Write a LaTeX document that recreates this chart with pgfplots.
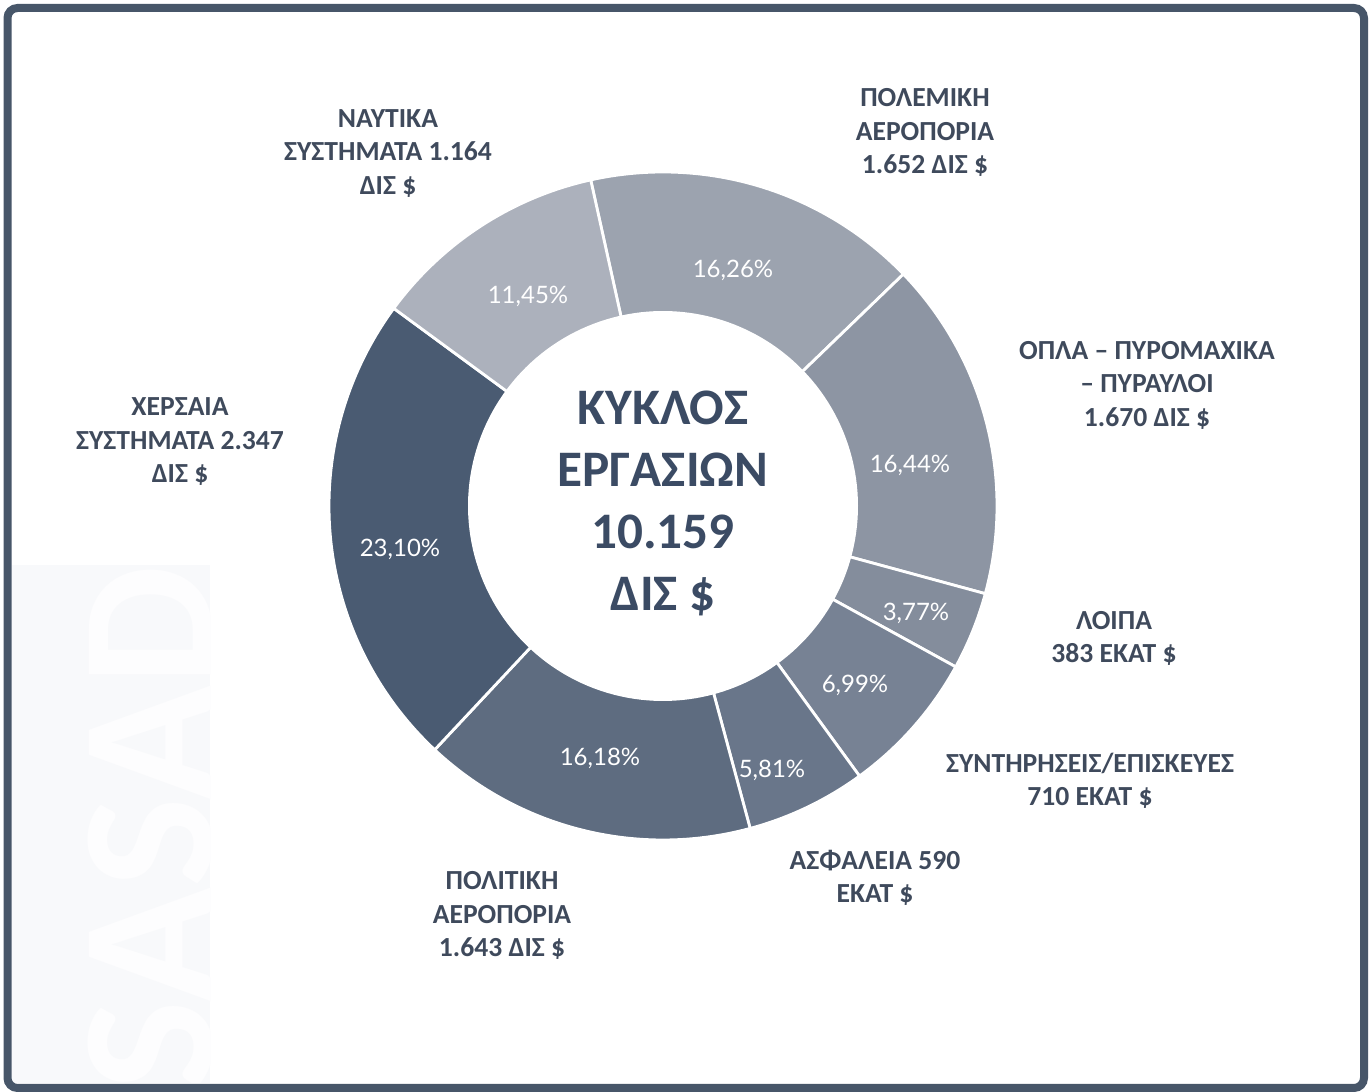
\documentclass[border=0pt]{standalone}
\usepackage{pgfplots}
\pgfplotsset{compat=1.18}
\usepackage{pgfplotstable}
\usepackage{fontspec}
\setmainfont{Carlito}
\newfontfamily\pctfont{Lato}

\definecolor{polem}{HTML}{9CA3AF}
\definecolor{opla}{HTML}{8D95A3}
\definecolor{loipa}{HTML}{848D9C}
\definecolor{syntir}{HTML}{778294}
\definecolor{asfal}{HTML}{69768A}
\definecolor{polit}{HTML}{5E6C80}
\definecolor{xers}{HTML}{4A5B72}
\definecolor{naut}{HTML}{ACB1BC}
\definecolor{txt}{HTML}{3F4A5C}
\definecolor{ctxt}{HTML}{3B4B64}
\definecolor{frame}{HTML}{475669}
\definecolor{wmbg}{HTML}{F8F9FB}
\definecolor{wmtxt}{HTML}{FDFDFE}

% shares of turnover (%), clockwise from the top
\pgfplotstableread{
pct    col
16.26  polem
16.44  opla
3.77   loipa
6.99   syntir
5.81   asfal
16.18  polit
23.10  xers
11.45  naut
}\slices

\begin{document}
\begin{tikzpicture}[
  lab/.style={align=center, text=txt,
    font=\fontsize{13.8}{16.75}\selectfont\bfseries},
  pct/.style={text=white, font=\pctfont\fontsize{12}{14}\selectfont},
]
\def\cx{663}\def\cy{577}\def\rout{334}\def\rin{195}
% start/end angle of every slice
\pgfplotstablegetrowsof{\slices}
\pgfmathtruncatemacro\nlast{\pgfplotsretval-1}
\gdef\cum{0}
\foreach \i in {0,...,\nlast}{
  \pgfplotstablegetelem{\i}{pct}\of\slices
  \pgfmathsetmacro\a{102.5-3.6*\cum}
  \pgfmathsetmacro\newcum{\cum+\pgfplotsretval}
  \pgfmathsetmacro\b{102.5-3.6*\newcum}
  \expandafter\xdef\csname sa\i\endcsname{\a}
  \expandafter\xdef\csname ea\i\endcsname{\b}
  \pgfplotstablegetelem{\i}{col}\of\slices
  \expandafter\xdef\csname co\i\endcsname{\pgfplotsretval}
  \xdef\cum{\newcum}
}

\begin{scope}[x=0.5pt,y=0.5pt]
  \useasboundingbox (0,0) rectangle (1372,1083);
  \fill[white] (0,0) rectangle (1372,1083);
  \fill[wmbg] (12,0) rectangle (210,518);
  \begin{scope}
    \clip (12,0) rectangle (210,518);
    \node[rotate=90, anchor=base, text=wmtxt, inner sep=0pt,
      font=\fontsize{95}{95}\selectfont\bfseries] at (212,255) {SASAD};
  \end{scope}
\end{scope}

\begin{axis}[at={(0,0)}, anchor=south west, scale only axis,
  width=686pt, height=541.5pt,
  xmin=0, xmax=1372, ymin=0, ymax=1083,
  hide axis, clip=false,
]
\pgfplotsinvokeforeach{0,...,\nlast}{
  \addplot[fill=\csname co#1\endcsname, draw=white, line width=1.4pt,
    domain=\csname ea#1\endcsname:\csname sa#1\endcsname,
    samples=90, variable=\t]
    ({\cx+\rout*cos(\t)}, {\cy+\rout*sin(\t)}) -- (axis cs:\cx,\cy) -- cycle;
}
\addplot[fill=white, draw=none, domain=0:360, samples=180, variable=\t]
  ({\cx+\rin*cos(\t)}, {\cy+\rin*sin(\t)}) -- cycle;

\node[pct] at (axis cs:733,813) {16,26\%};
\node[pct] at (axis cs:910,618) {16,44\%};
\node[pct] at (axis cs:916,470) {3,77\%};
\node[pct] at (axis cs:855,398) {6,99\%};
\node[pct] at (axis cs:772,313) {5,81\%};
\node[pct] at (axis cs:600,325) {16,18\%};
\node[pct] at (axis cs:400,534) {23,10\%};
\node[pct] at (axis cs:528,787) {11,45\%};

\node[align=center, text=ctxt, font=\fontsize{25.6}{31}\selectfont\bfseries]
  at (axis cs:663,580) {ΚΥΚΛΟΣ\\ΕΡΓΑΣΙΩΝ\\10.159\\ΔΙΣ \$};

\node[lab] at (axis cs:925,950.5) {ΠΟΛΕΜΙΚΗ\\ΑΕΡΟΠΟΡΙΑ\\1.652 ΔΙΣ \$};
\node[lab] at (axis cs:1147,698) {ΟΠΛΑ – ΠΥΡΟΜΑΧΙΚΑ\\– ΠΥΡΑΥΛΟΙ\\1.670 ΔΙΣ \$};
\node[lab] at (axis cs:1114,444.5) {ΛΟΙΠΑ\\383 ΕΚΑΤ \$};
\node[lab] at (axis cs:1090,302) {ΣΥΝΤΗΡΗΣΕΙΣ/ΕΠΙΣΚΕΥΕΣ\\710 ΕΚΑΤ \$};
\node[lab] at (axis cs:875,205) {ΑΣΦΑΛΕΙΑ 590\\ΕΚΑΤ \$};
\node[lab] at (axis cs:502,167.5) {ΠΟΛΙΤΙΚΗ\\ΑΕΡΟΠΟΡΙΑ\\1.643 ΔΙΣ \$};
\node[lab] at (axis cs:180,641) {ΧΕΡΣΑΙΑ\\ΣΥΣΤΗΜΑΤΑ 2.347\\ΔΙΣ \$};
\node[lab] at (axis cs:388,929.5) {ΝΑΥΤΙΚΑ\\ΣΥΣΤΗΜΑΤΑ 1.164\\ΔΙΣ \$};
\end{axis}

\begin{scope}[x=0.5pt,y=0.5pt]
  \draw[frame, line width=4pt, rounded corners=5pt] (7.5,-5) rectangle (1364,1075);
\end{scope}
\end{tikzpicture}
\end{document}
